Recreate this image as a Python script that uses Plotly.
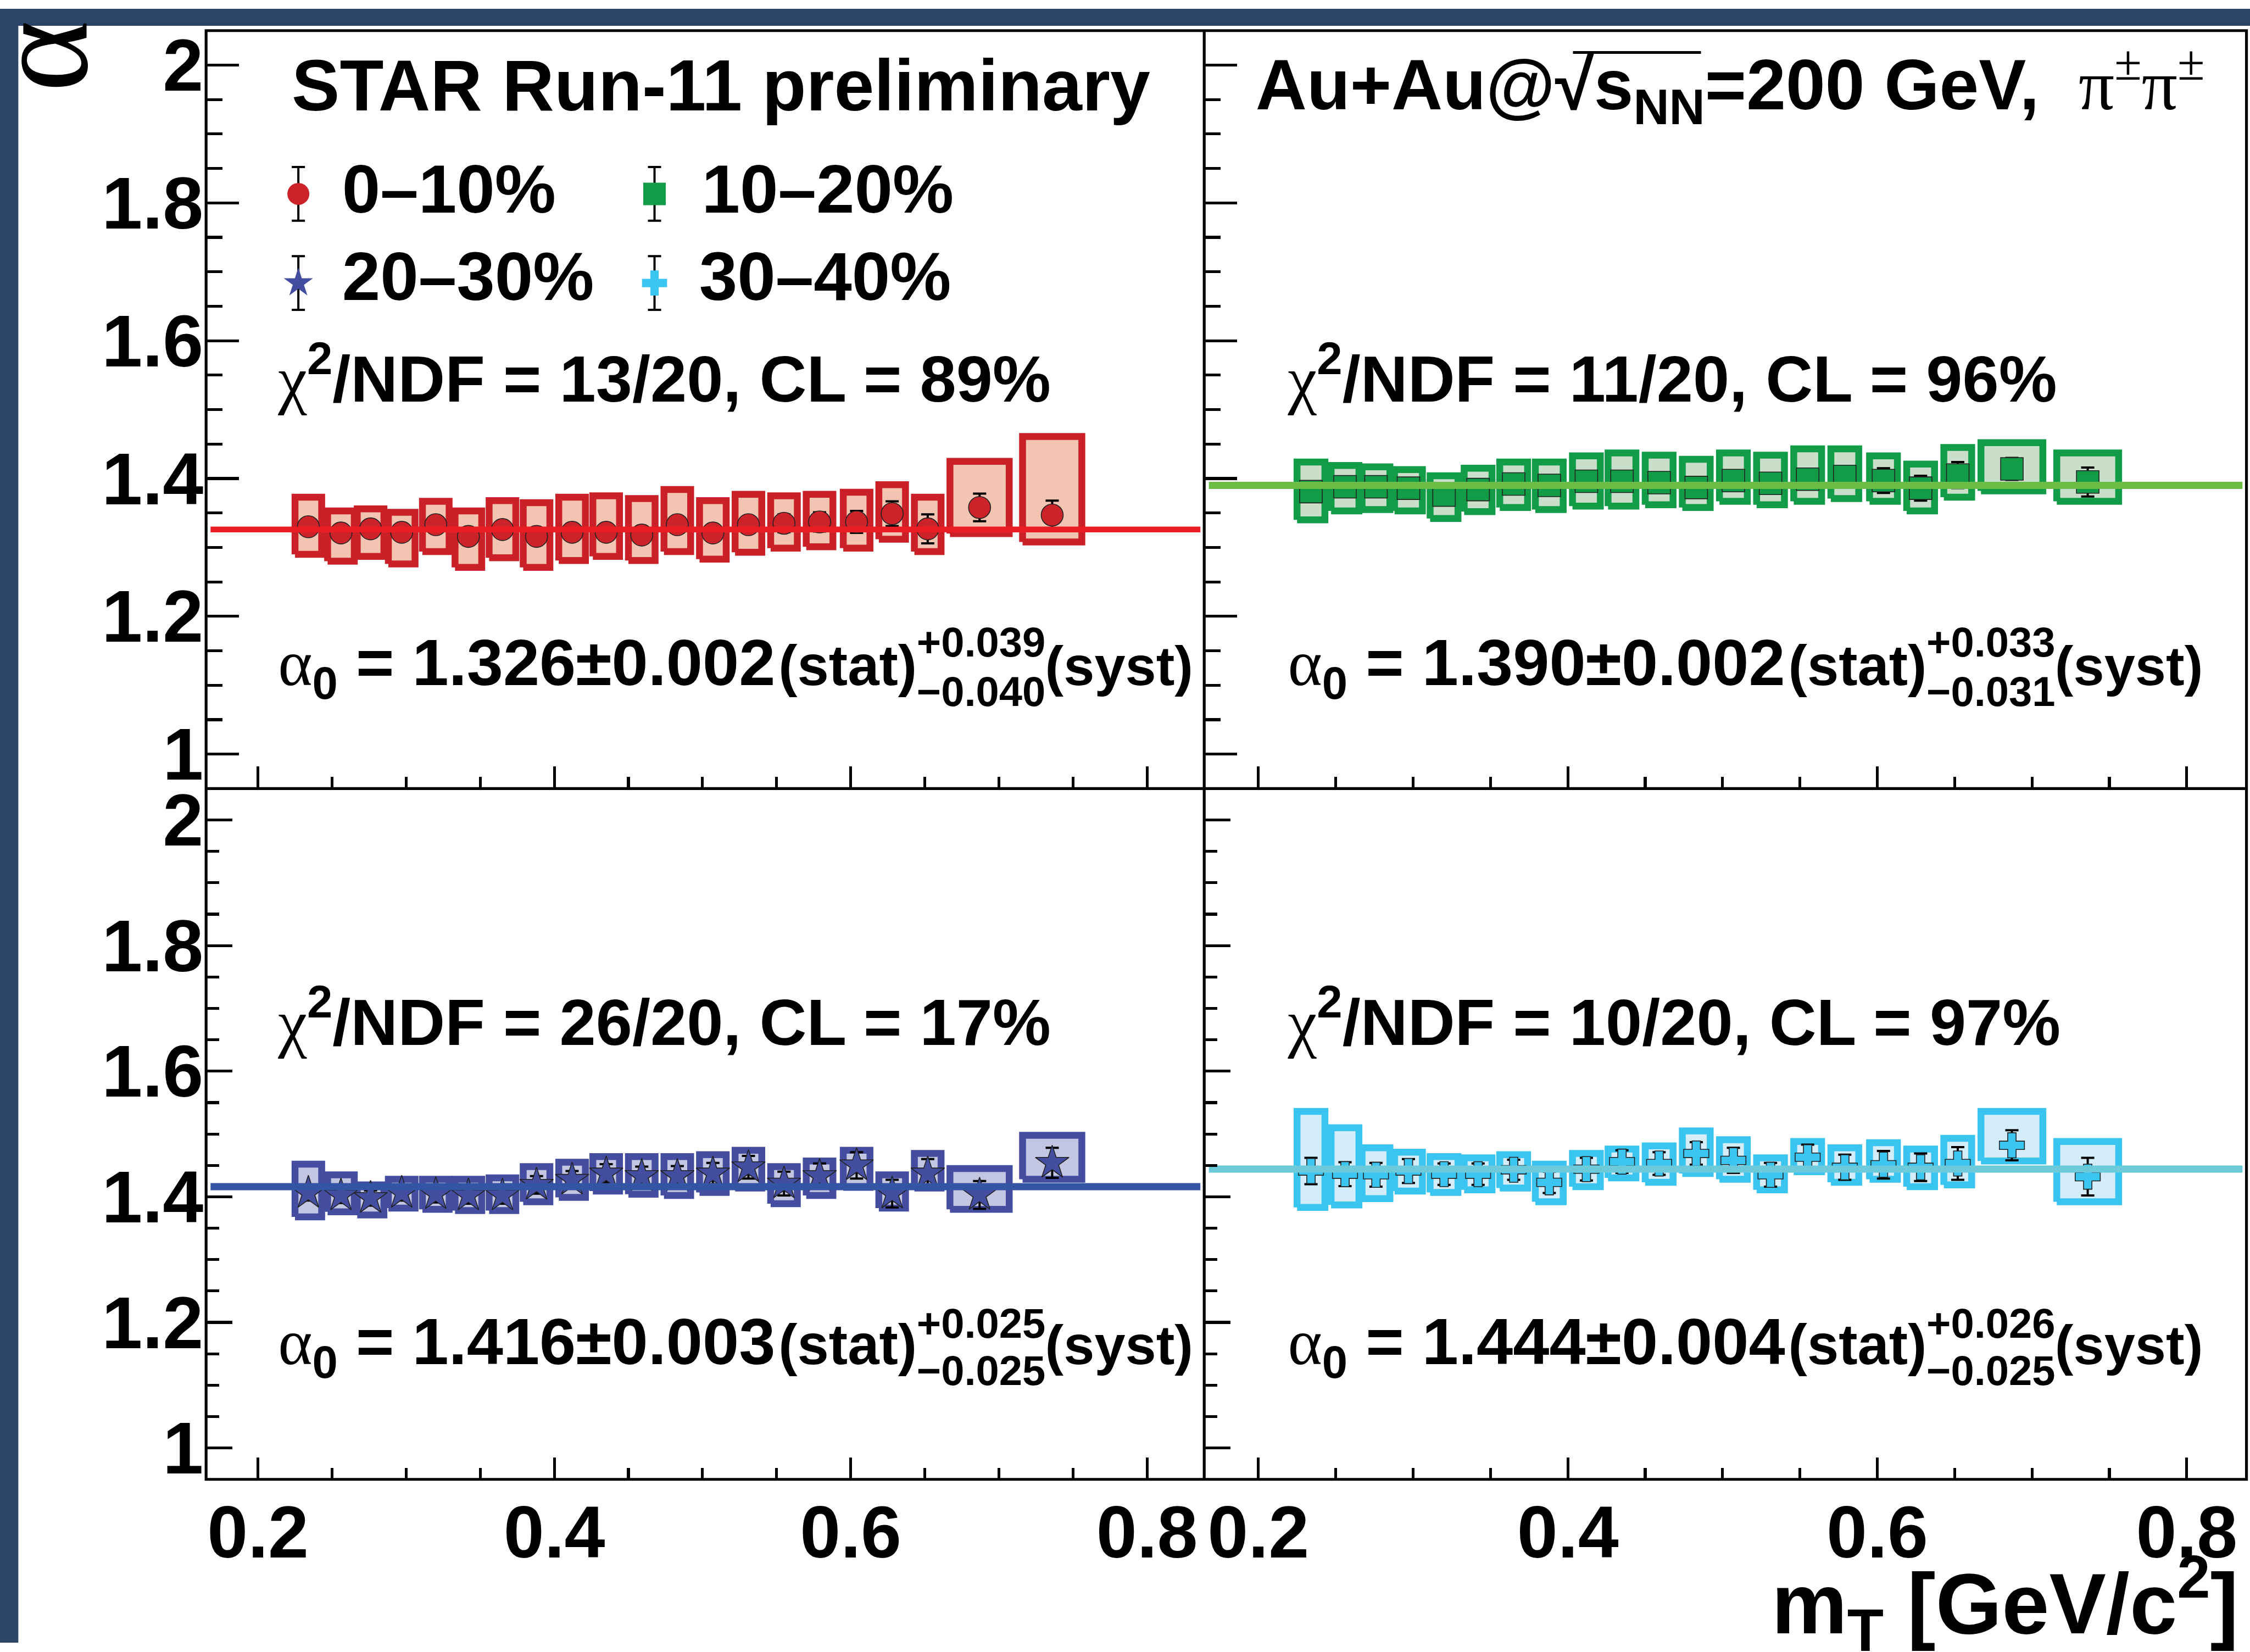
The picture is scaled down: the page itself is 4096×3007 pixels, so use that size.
import plotly.graph_objects as go

# ---------------- data ----------------
mt = [0.234, 0.256, 0.276, 0.297, 0.320, 0.342, 0.365, 0.388, 0.412, 0.435, 0.459,
      0.483, 0.507, 0.531, 0.555, 0.579, 0.604, 0.628, 0.652, 0.687, 0.736]
box_halfwidth = [0.009, 0.009, 0.009, 0.009, 0.009, 0.009, 0.009, 0.009, 0.009, 0.009, 0.009,
                 0.009, 0.009, 0.009, 0.009, 0.009, 0.009, 0.009, 0.009, 0.020, 0.020]

centralities = ["0–10%", "10–20%", "20–30%", "30–40%"]

alpha_0_10 = [1.330, 1.321, 1.327, 1.322, 1.333, 1.316, 1.326, 1.316, 1.322, 1.322, 1.318,
              1.333, 1.321, 1.333, 1.335, 1.337, 1.337, 1.349, 1.327, 1.358, 1.347]
stat_0_10 = [0.008, 0.008, 0.008, 0.008, 0.009, 0.009, 0.009, 0.009, 0.010, 0.010, 0.010,
             0.011, 0.011, 0.012, 0.013, 0.014, 0.016, 0.018, 0.021, 0.020, 0.021]
syshi_0_10 = [1.373, 1.353, 1.356, 1.351, 1.367, 1.353, 1.368, 1.365, 1.373, 1.375, 1.371,
              1.384, 1.368, 1.377, 1.375, 1.377, 1.380, 1.391, 1.373, 1.425, 1.461]
syslo_0_10 = [1.290, 1.280, 1.287, 1.276, 1.294, 1.271, 1.285, 1.271, 1.281, 1.287, 1.281,
              1.294, 1.283, 1.293, 1.299, 1.301, 1.299, 1.312, 1.294, 1.320, 1.308]

alpha_10_20 = [1.381, 1.388, 1.388, 1.386, 1.376, 1.384, 1.392, 1.390, 1.396, 1.396, 1.394,
               1.387, 1.397, 1.393, 1.399, 1.403, 1.397, 1.386, 1.405, 1.414, 1.395]
stat_10_20 = [0.008, 0.008, 0.008, 0.008, 0.009, 0.009, 0.009, 0.010, 0.010, 0.010, 0.011,
              0.011, 0.012, 0.013, 0.014, 0.015, 0.018, 0.018, 0.019, 0.016, 0.021]
syshi_10_20 = [1.424, 1.419, 1.417, 1.413, 1.404, 1.415, 1.424, 1.424, 1.433, 1.437, 1.434,
               1.428, 1.437, 1.434, 1.443, 1.443, 1.433, 1.421, 1.445, 1.452, 1.437]
syslo_10_20 = [1.340, 1.353, 1.355, 1.353, 1.342, 1.352, 1.358, 1.355, 1.360, 1.360, 1.362,
               1.358, 1.367, 1.362, 1.367, 1.371, 1.367, 1.353, 1.373, 1.382, 1.367]

alpha_20_30 = [1.406, 1.402, 1.398, 1.406, 1.404, 1.402, 1.402, 1.419, 1.427, 1.437, 1.433,
               1.433, 1.437, 1.447, 1.421, 1.433, 1.450, 1.405, 1.437, 1.403, 1.454]
stat_20_30 = [0.012, 0.012, 0.012, 0.012, 0.013, 0.013, 0.013, 0.014, 0.014, 0.015, 0.015,
              0.016, 0.017, 0.018, 0.019, 0.020, 0.021, 0.022, 0.023, 0.022, 0.024]
syshi_20_30 = [1.452, 1.435, 1.419, 1.428, 1.428, 1.428, 1.430, 1.448, 1.455, 1.464, 1.464,
               1.464, 1.467, 1.474, 1.448, 1.457, 1.474, 1.435, 1.469, 1.445, 1.498]
syslo_20_30 = [1.368, 1.376, 1.371, 1.382, 1.380, 1.378, 1.378, 1.392, 1.399, 1.409, 1.404,
               1.402, 1.407, 1.414, 1.389, 1.402, 1.415, 1.382, 1.414, 1.380, 1.428]

alpha_30_40 = [1.441, 1.436, 1.435, 1.441, 1.436, 1.436, 1.443, 1.423, 1.444, 1.456, 1.453,
               1.469, 1.458, 1.435, 1.463, 1.447, 1.451, 1.447, 1.453, 1.482, 1.432]
stat_30_40 = [0.021, 0.019, 0.019, 0.019, 0.017, 0.017, 0.016, 0.017, 0.018, 0.018, 0.018,
              0.018, 0.020, 0.019, 0.020, 0.020, 0.022, 0.022, 0.026, 0.024, 0.030]
syshi_30_40 = [1.536, 1.510, 1.478, 1.471, 1.464, 1.462, 1.467, 1.452, 1.469, 1.476, 1.481,
               1.505, 1.491, 1.462, 1.488, 1.478, 1.486, 1.476, 1.493, 1.536, 1.488]
syslo_30_40 = [1.383, 1.387, 1.397, 1.409, 1.407, 1.411, 1.414, 1.392, 1.416, 1.430, 1.423,
               1.437, 1.428, 1.411, 1.440, 1.423, 1.428, 1.416, 1.419, 1.457, 1.392]

alpha0_fit = [1.326, 1.390, 1.416, 1.444]
alpha0_stat = ["0.002", "0.002", "0.003", "0.004"]
alpha0_syst_up = ["+0.039", "+0.033", "+0.025", "+0.026"]
alpha0_syst_dn = ["−0.040", "−0.031", "−0.025", "−0.025"]
chi2_ndf = ["13/20", "11/20", "26/20", "10/20"]
conf_level = ["89%", "96%", "17%", "97%"]
fit_range = [0.168, 0.836]

x_range = [0.165, 0.8386]
y_range = [0.95, 2.05]

values = [alpha_0_10, alpha_10_20, alpha_20_30, alpha_30_40]
stats = [stat_0_10, stat_10_20, stat_20_30, stat_30_40]
sys_hi = [syshi_0_10, syshi_10_20, syshi_20_30, syshi_30_40]
sys_lo = [syslo_0_10, syslo_10_20, syslo_20_30, syslo_30_40]

# ---------------- styles ----------------
marker_symbol = ["circle", "square", "star", "cross"]
marker_size = [40, 41, 46, 38]
marker_color = ["#cc2229", "#129c48", "#434ea0", "#3bc5f1"]
box_line = ["#cb2027", "#129c48", "#444da0", "#3ac4f0"]
box_fill = ["#f2c4b1", "#c9dfc9", "#c3c6e2", "#d3eefa"]
fit_color = ["#ec1c24", "#6bbd45", "#3454a4", "#6ccadb"]
fit_width = [10.5, 13, 13, 13]

SANS = "Liberation Sans"
SERIF = "Liberation Serif"

RW, RH = 5098.0, 3742.0          # reference pixel frame
W, H = 4096, 3007
S = W / RW

FX = [467.0, 2728.5, 5090.0]     # frame x positions (ref px)
FY = [50.0, 1786.0, 3368.0]      # frame y positions (ref px)
cells = [(0, 0), (1, 0), (0, 1), (1, 1)]

fig = go.Figure()

layout_axes = {}
for i, (c, r) in enumerate(cells):
    xn = "xaxis" if i == 0 else f"xaxis{i+1}"
    yn = "yaxis" if i == 0 else f"yaxis{i+1}"
    xs = "x" if i == 0 else f"x{i+1}"
    ys = "y" if i == 0 else f"y{i+1}"
    ylen = 60 if r == 0 else 48
    layout_axes[xn] = dict(
        domain=[FX[c] / RW, FX[c + 1] / RW], range=x_range, anchor=ys,
        showline=False, showgrid=False, zeroline=False,
        ticks="inside", ticklen=40, tickwidth=5.2, tickcolor="black",
        tickmode="linear", tick0=0.2, dtick=0.2,
        minor=dict(ticks="inside", ticklen=21, tickwidth=5.2, tickcolor="black", dtick=0.05, tick0=0.0, showgrid=False),
        showticklabels=(r == 1),
        tickfont=dict(family=SANS, size=133, color="black", weight="bold"),
        ticklabelstandoff=8,
        fixedrange=True,
    )
    layout_axes[yn] = dict(
        domain=[1 - FY[r + 1] / RH, 1 - FY[r] / RH], range=y_range, anchor=xs,
        showline=False, showgrid=False, zeroline=False,
        ticks="inside", ticklen=ylen, tickwidth=5.2, tickcolor="black",
        tickmode="linear", tick0=1.0, dtick=0.2,
        minor=dict(ticks="inside", ticklen=ylen / 2, tickwidth=5.2, tickcolor="black", dtick=0.05, tick0=0.0, showgrid=False),
        showticklabels=(c == 0),
        tickfont=dict(family=SANS, size=133, color="black", weight="bold"),
        ticklabelstandoff=4,
        fixedrange=True,
    )

    # systematic boxes
    bx, by = [], []
    for x, w, lo, hi in zip(mt, box_halfwidth, sys_lo[i], sys_hi[i]):
        bx += [x - w, x + w, x + w, x - w, x - w, None]
        by += [lo, lo, hi, hi, lo, None]
    fig.add_trace(go.Scatter(x=bx, y=by, xaxis=xs, yaxis=ys, mode="lines", fill="toself",
                             fillcolor=box_fill[i], line=dict(color=box_line[i], width=12.5),
                             hoverinfo="skip", showlegend=False))
    # points with statistical errors
    fig.add_trace(go.Scatter(x=mt, y=values[i], xaxis=xs, yaxis=ys, mode="markers",
                             marker=dict(symbol=marker_symbol[i], size=marker_size[i], color=marker_color[i],
                                         line=dict(color="#222222", width=1.6)),
                             error_y=dict(type="data", array=stats[i], color="black", thickness=4, width=12),
                             hoverinfo="skip", showlegend=False))
    # constant fit
    fig.add_trace(go.Scatter(x=fit_range, y=[alpha0_fit[i], alpha0_fit[i]], xaxis=xs, yaxis=ys,
                             mode="lines", line=dict(color=fit_color[i], width=fit_width[i]),
                             hoverinfo="skip", showlegend=False))

# overlay axis in reference-pixel units for legend and text
layout_axes["xaxis5"] = dict(domain=[0, 1], range=[0, RW], visible=False, anchor="y5", fixedrange=True)
layout_axes["yaxis5"] = dict(domain=[0, 1], range=[RH, 0], visible=False, anchor="x5", fixedrange=True)

# legend entries (marker with error bar)
leg_x = [676, 1483, 676, 1483]
leg_y = [424, 424, 628, 628]
leg_size = [40, 41, 40, 38]
for i in range(4):
    fig.add_trace(go.Scatter(x=[leg_x[i]], y=[leg_y[i]], xaxis="x5", yaxis="y5", mode="markers",
                             marker=dict(symbol=marker_symbol[i], size=leg_size[i], color=marker_color[i],
                                         line=dict(color=marker_color[i], width=0)),
                             error_y=dict(type="data", array=[61.5], color="black", thickness=4, width=12),
                             hoverinfo="skip", showlegend=False, cliponaxis=False))


def add_text(x, baseline, text, size, anchor="left", family=SANS, weight="bold"):
    y = baseline - 0.25 * size / S
    pos = "middle right" if anchor == "left" else "middle left"
    fig.add_trace(go.Scatter(x=[x], y=[y], xaxis="x5", yaxis="y5", mode="text", text=[text],
                             textposition=pos,
                             textfont=dict(family=family, size=size, color="black", weight=weight),
                             hoverinfo="skip", showlegend=False, cliponaxis=False))


SER = "<span style=\"font-family:Liberation Serif;font-weight:normal\">"

add_text(661, 232, "STAR Run-11 preliminary", 131)
add_text(2845, 230, "Au+Au@√s<sub>NN</sub>=200 GeV,  " + SER + "π<sup>±</sup>π<sup>±</sup></span>", 129)

leg_tx = [775, 1590, 775, 1584]
leg_base = [466, 466, 667, 667]
for i in range(4):
    add_text(leg_tx[i], leg_base[i], centralities[i], 125)

txt_left = [630, 2918, 630, 2918]
chi_base = [899, 899, 2372, 2372]
main_base = [1549, 1549, 3104, 3104]
sup_base = [1483, 1483, 3044, 3044]
sub_base = [1596, 1596, 3152, 3152]
for i in range(4):
    x0 = txt_left[i]
    add_text(x0, chi_base[i], SER + "χ</span><sup>2</sup>/NDF = " + chi2_ndf[i] + ", CL = " + conf_level[i], 119)
    add_text(x0, main_base[i], SER + "α</span><sub>0</sub> = " + f"{alpha0_fit[i]:.3f}" + "±" + alpha0_stat[i], 119)
    add_text(x0 + 1134, main_base[i], "(stat)", 103)
    add_text(x0 + 1447, sup_base[i], alpha0_syst_up[i], 76)
    add_text(x0 + 1447, sub_base[i], alpha0_syst_dn[i], 76)
    add_text(x0 + 1738, main_base[i], "(syst)", 101)

add_text(5072, 3720, "m<sub>T</sub> [GeV/c<sup>2</sup>]", 155, anchor="right")

shapes = [
    dict(type="rect", xref="paper", yref="paper", x0=0, x1=41.5 / RW, y0=0, y1=1,
         fillcolor="#2b4468", line=dict(width=0), layer="below"),
    dict(type="rect", xref="paper", yref="paper", x0=0, x1=1, y0=1 - 39 / RH, y1=1,
         fillcolor="#2b4468", line=dict(width=0), layer="below"),
    dict(type="rect", xref="paper", yref="paper", x0=FX[0] / RW, x1=FX[2] / RW,
         y0=1 - FY[2] / RH, y1=1 - FY[0] / RH, line=dict(color="black", width=5.2), layer="above"),
    dict(type="line", xref="paper", yref="paper", x0=FX[1] / RW, x1=FX[1] / RW,
         y0=1 - FY[2] / RH, y1=1 - FY[0] / RH, line=dict(color="black", width=5.2), layer="above"),
    dict(type="line", xref="paper", yref="paper", x0=FX[0] / RW, x1=FX[2] / RW,
         y0=1 - FY[1] / RH, y1=1 - FY[1] / RH, line=dict(color="black", width=5.2), layer="above"),
    dict(type="line", xref="paper", yref="paper", x0=3564 / RW, x1=3854 / RW,
         y0=1 - 100 / RH, y1=1 - 100 / RH, line=dict(color="black", width=5), layer="above"),
]

annotations = [
    dict(xref="paper", yref="paper", x=92 / RW, y=1 - 108 / RH, xanchor="center", yanchor="middle",
         text="α", textangle=-90, showarrow=False, font=dict(family=SERIF, size=250, color="black"),
         borderpad=0),
]

fig.update_layout(
    width=W, height=H, margin=dict(l=0, r=0, t=0, b=0),
    paper_bgcolor="white", plot_bgcolor="rgba(0,0,0,0)",
    showlegend=False, shapes=shapes, annotations=annotations,
    **layout_axes,
)

fig.write_html("out.html", config={"displayModeBar": False, "staticPlot": True},
               post_script="document.body.style.margin='0px';")
